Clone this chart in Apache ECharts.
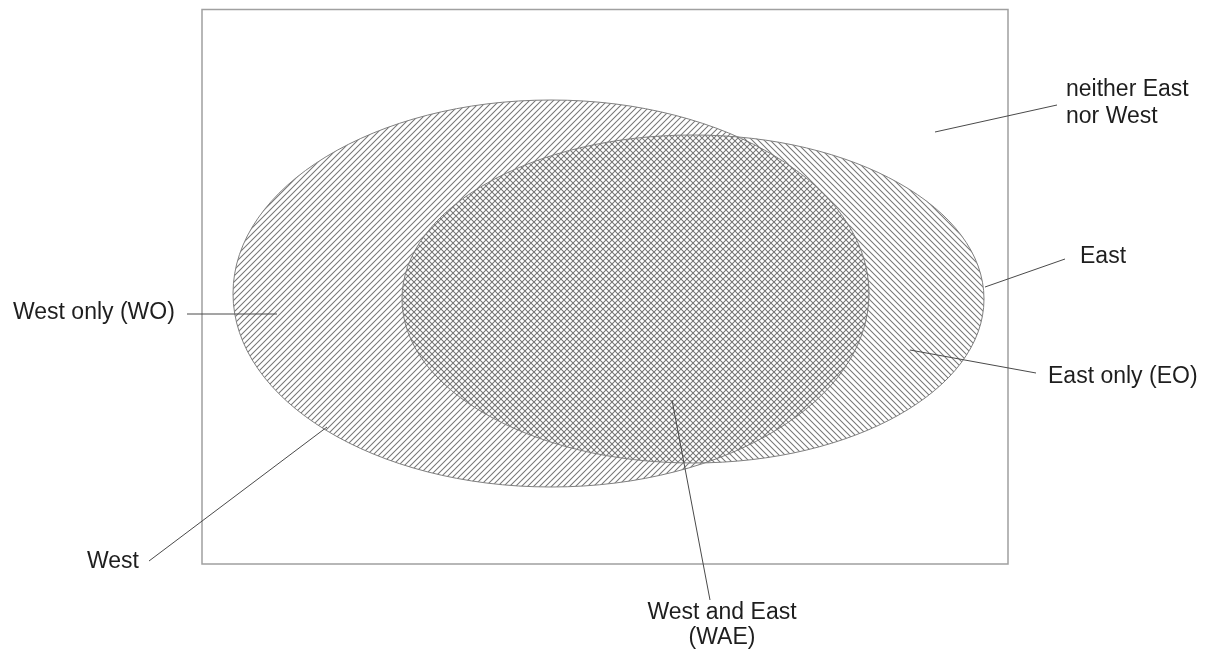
<!DOCTYPE html>
<html>
<head>
<meta charset="utf-8">
<style>
  html, body { margin: 0; padding: 0; background: #ffffff; }
  #chart { width: 1209px; height: 653px; }
</style>
<script src="https://cdn.jsdelivr.net/npm/echarts/dist/echarts.min.js"></script>
</head>
<body>
<div id="chart"></div>
<script>
// ---- Diagram data (diagram units = hidden axis units) ----
var setNames = ['West', 'East'];
var setCenterX = [551, 693];
var setCenterY = [293.5, 299];
var setRadiusX = [318, 291];
var setRadiusY = [193.5, 164];

var universeBox = [202, 9.5, 1008, 564]; // x0, y0, x1, y1

var labelTexts = ['neither East\nnor West', 'East', 'East only (EO)', 'West and East\n(WAE)', 'West', 'West only (WO)'];
var labelAnchorX = [1066, 1080, 1048, 722, 87, 13];
var labelAnchorY = [103.5, 256.5, 377, 625.5, 562, 313];
var leaderFromX = [935, 985, 910, 672, 327, 277];
var leaderFromY = [132, 287, 350, 400, 427, 314];
var leaderToX = [1057, 1065, 1036, 710, 149, 187];
var leaderToY = [105, 259, 373, 600, 561, 314];

// ---- hatch patterns ----
function makeHatch(dir) {
  var size = 6;
  var c = document.createElement('canvas');
  c.width = size; c.height = size;
  var ctx = c.getContext('2d');
  ctx.strokeStyle = '#777777';
  ctx.lineWidth = 1.05;
  ctx.beginPath();
  if (dir > 0) {
    ctx.moveTo(-1, size + 1); ctx.lineTo(size + 1, -1);
    ctx.moveTo(-1, 1); ctx.lineTo(1, -1);
    ctx.moveTo(size - 1, size + 1); ctx.lineTo(size + 1, size - 1);
  } else {
    ctx.moveTo(-1, -1); ctx.lineTo(size + 1, size + 1);
    ctx.moveTo(size - 1, -1); ctx.lineTo(size + 1, 1);
    ctx.moveTo(-1, size - 1); ctx.lineTo(1, size + 1);
  }
  ctx.stroke();
  return c;
}
var hatches = [makeHatch(1), makeHatch(-1)];

var setData = setNames.map(function (n, i) {
  return { name: n, value: [setCenterX[i], setCenterY[i], setRadiusX[i], setRadiusY[i], i] };
});
var labelData = labelTexts.map(function (t, i) {
  return { name: t, value: [labelAnchorX[i], labelAnchorY[i], leaderFromX[i], leaderFromY[i], leaderToX[i], leaderToY[i]] };
});

var chart = echarts.init(document.getElementById('chart'), null, { renderer: 'canvas' });
var FONT = '23px "Liberation Sans", Arial, sans-serif';

chart.setOption({
  animation: false,
  backgroundColor: '#ffffff',
  grid: { left: 0, right: 0, top: 0, bottom: 0 },
  xAxis: { type: 'value', min: 0, max: 1209, show: false },
  yAxis: { type: 'value', min: 0, max: 653, inverse: true, show: false },
  tooltip: { show: false },
  series: [
    {
      type: 'custom',
      name: 'universe',
      z: 1,
      silent: true,
      data: [universeBox],
      renderItem: function (params, api) {
        var p0 = api.coord([api.value(0), api.value(1)]);
        var p1 = api.coord([api.value(2), api.value(3)]);
        return {
          type: 'rect',
          shape: { x: p0[0], y: p0[1], width: p1[0] - p0[0], height: p1[1] - p0[1] },
          style: { fill: 'none', stroke: '#a0a0a0', lineWidth: 1.5 }
        };
      }
    },
    {
      type: 'custom',
      name: 'sets',
      z: 2,
      silent: true,
      data: setData,
      renderItem: function (params, api) {
        var c = api.coord([api.value(0), api.value(1)]);
        var s = api.size([api.value(2), api.value(3)]);
        var idx = api.value(4);
        return {
          type: 'ellipse',
          shape: { cx: c[0], cy: c[1], rx: s[0], ry: s[1] },
          style: { fill: { image: hatches[idx], repeat: 'repeat' }, stroke: '#808080', lineWidth: 1 }
        };
      }
    },
    {
      type: 'custom',
      name: 'labels',
      z: 3,
      silent: true,
      data: labelData,
      renderItem: function (params, api) {
        var a = api.coord([api.value(0), api.value(1)]);
        var f = api.coord([api.value(2), api.value(3)]);
        var t = api.coord([api.value(4), api.value(5)]);
        var text = labelTexts[params.dataIndex];
        var centered = text.indexOf('WAE') >= 0;
        return {
          type: 'group',
          children: [
            {
              type: 'line',
              shape: { x1: f[0], y1: f[1], x2: t[0], y2: t[1] },
              style: { stroke: '#4a4a4a', lineWidth: 1 }
            },
            {
              type: 'text',
              style: {
                text: text,
                x: a[0], y: a[1],
                font: FONT,
                fill: '#1e1e1e',
                align: centered ? 'center' : 'left',
                verticalAlign: 'middle',
                lineHeight: centered ? 25 : 27
              }
            }
          ]
        };
      }
    }
  ]
});
</script>
</body>
</html>
